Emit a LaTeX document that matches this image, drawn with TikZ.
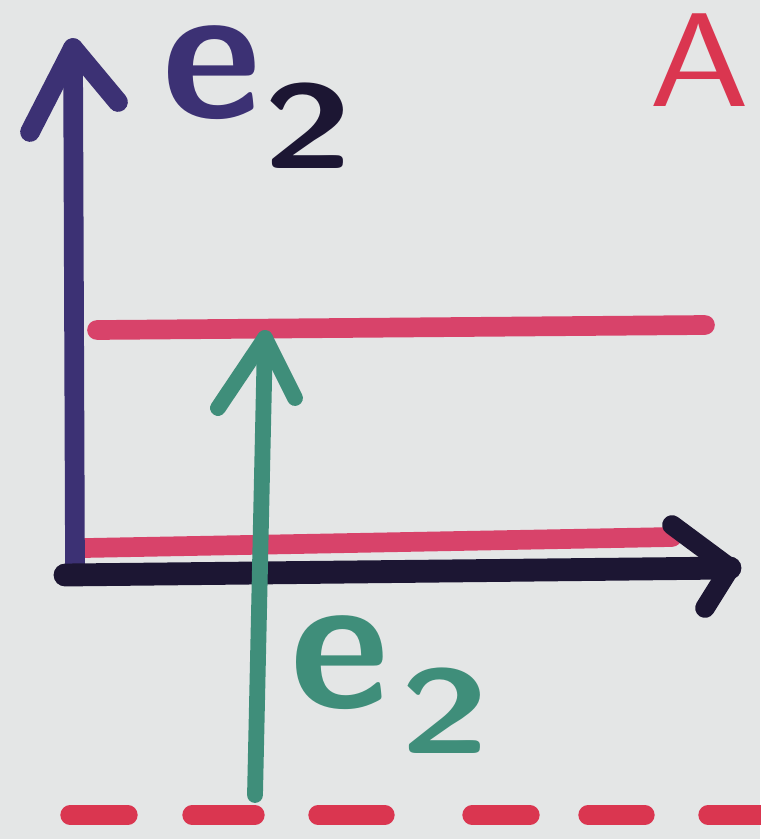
\documentclass[tikz,border=0pt]{standalone}
\begin{document}
\begin{tikzpicture}[x=0.01cm,y=-0.01cm,line cap=round,line join=round,
  marker/.style={line width=5.6pt},
  bige/.style={inner sep=0pt,text height=24pt,text depth=0pt,font=\sffamily\bfseries\fontsize{55}{55}\selectfont},
  bigt/.style={inner sep=0pt,text height=26pt,text depth=0pt,xscale=1.15,yscale=0.85,font=\sffamily\bfseries\fontsize{40}{40}\selectfont}]
\definecolor{bgc}{HTML}{E4E6E6}
\definecolor{purp}{HTML}{3C3174}
\definecolor{blk}{HTML}{1C1633}
\definecolor{pinkc}{HTML}{D8436A}
\definecolor{grn}{HTML}{3F8E7A}
\definecolor{redc}{HTML}{DA3650}
\useasboundingbox (0,0) rectangle (760,839);
\fill[bgc] (0,0) rectangle (760,839);
% red horizontal lines
\coordinate (r1a) at (97,330); \coordinate (r1b) at (705,325);
\coordinate (r2a) at (85,548); \coordinate (r2b) at (672,537);
\draw[marker,pinkc] (r1a) -- (r1b);
\draw[marker,pinkc] (r2a) -- (r2b);
% vertical axis
\coordinate (o) at (75,565); \coordinate (ytop) at (73,48);
\coordinate (yl) at (30,132); \coordinate (yr) at (118,102);
\draw[marker,purp] (o) -- (ytop);
\draw[marker,purp] (yl) -- (ytop) -- (yr);
% horizontal axis
\coordinate (xo) at (65,575); \coordinate (xend) at (730,568);
\coordinate (xu) at (672,525); \coordinate (xd) at (705,608);
\draw[line width=6.5pt,blk] (xo) -- (xend);
\draw[marker,blk] (xu) -- (xend) -- (xd);
% green arrow
\coordinate (gb) at (255,795); \coordinate (gt) at (265,338);
\coordinate (gl) at (218,408); \coordinate (gr) at (295,398);
\draw[line width=4.5pt,grn] (gb) -- (gt);
\draw[line width=4.5pt,grn] (gl) -- (gt) -- (gr);
% labels
\node[bige,purp] (e1) at (212,75) {e};
\node[bigt,blk] (t1) at (308,130) {2};
\node[bige,grn] (e2) at (340,665) {e};
\node[bigt,grn] (t2) at (445,715) {2};
\node[inner sep=0pt,redc,xscale=1.2,font=\sffamily\fontsize{38}{38}\selectfont] (A) at (700,60) {A};
% dashed line
\foreach \a/\b in {70/128,192/255,318/385,472/530,588/645,708/770}
  \draw[line width=5.5pt,redc] (\a,815) -- (\b,815);
\end{tikzpicture}
\end{document}
